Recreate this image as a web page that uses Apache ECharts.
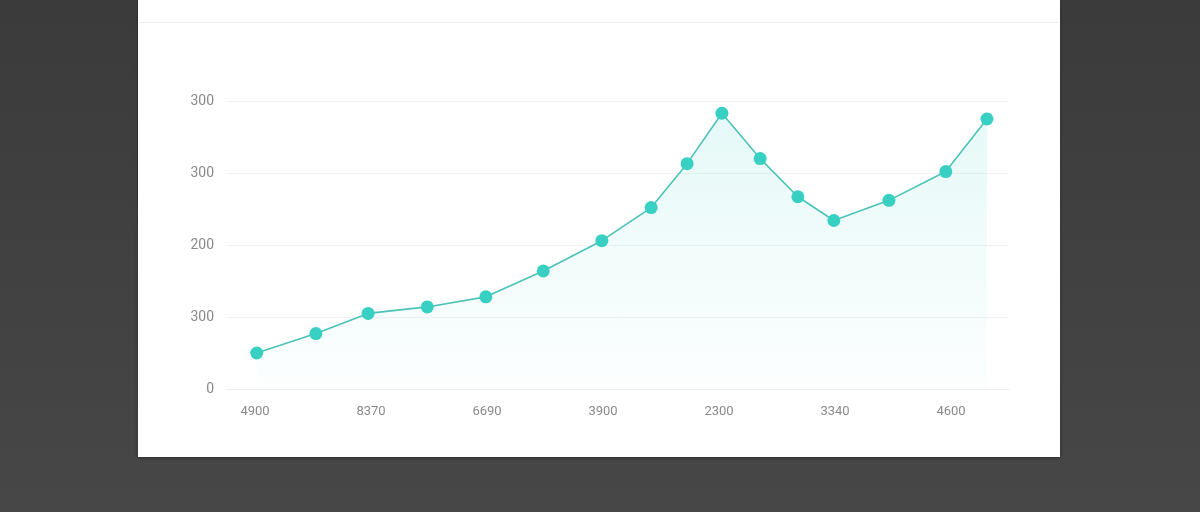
<!DOCTYPE html>
<html lang="en">
<head>
    <meta charset="UTF-8">
    <script type="text/javascript" src="https://cdn.jsdelivr.net/npm/echarts@6/dist/echarts.min.js"></script>
    <title>chart</title>
    <style>
        html, body { margin: 0; padding: 0; }
        body {
            width: 1200px; height: 512px; overflow: hidden; position: relative;
            background: linear-gradient(180deg, #3b3b3b 0%, #424242 60%, #474747 100%);
        }
        #card {
            position: absolute; left: 138px; top: 0; width: 922px; height: 457px;
            background: #fff; box-shadow: 0 1px 3px rgba(0,0,0,0.35);
        }
        #card_line {
            position: absolute; left: 140px; top: 22px; width: 918px; height: 1px;
            background: #ececec;
        }
        #main { position: absolute; left: 0; top: 0; width: 1200px; height: 512px; }
    </style>
</head>
<body>
<div id="card"></div>
<div id="card_line"></div>
<div id="main"></div>
<script type="text/javascript">
    // x positions (in label steps of 0.5) and values
    var xPos = [0.03, 1.05, 1.95, 2.97, 3.98, 4.97, 5.98, 6.83, 7.45, 8.05, 8.71, 9.36, 9.98, 10.93, 11.91, 12.62];
    var yVals = [50, 77, 105, 114, 128, 164, 206, 252, 313, 383, 320, 267, 234, 262, 302, 375];
    var xTicks = [0, 2, 4, 6, 8, 10, 12];
    var xLabels = ['4900', '8370', '6690', '3900', '2300', '3340', '4600'];
    var yLabels = ['0', '300', '200', '300', '300'];

    var points = xPos.map(function (x, i) { return [x, yVals[i]]; });

    var chart = echarts.init(document.getElementById('main'), null, {renderer: 'canvas'});
    chart.setOption({
        backgroundColor: 'transparent',
        animation: false,
        grid: {left: 226, right: 191, top: 101, bottom: 123},
        xAxis: {
            type: 'value',
            min: -0.5,
            max: 13,
            splitLine: {show: false},
            axisLine: {show: true, lineStyle: {color: '#eeeeee'}},
            axisTick: {show: false},
            axisLabel: {
                customValues: xTicks,
                margin: 16,
                color: '#8a8a8a',
                fontSize: 13,
                fontFamily: 'Roboto',
                formatter: function (v) {
                    var i = xTicks.indexOf(Math.round(v));
                    return i >= 0 ? xLabels[i] : '';
                }
            }
        },
        yAxis: {
            type: 'value',
            min: 0,
            max: 400,
            interval: 100,
            axisLine: {show: false},
            axisTick: {show: false},
            splitLine: {lineStyle: {color: '#f1f1f1'}},
            axisLabel: {
                margin: 12,
                color: '#8a8a8a',
                fontSize: 14,
                fontFamily: 'Roboto',
                formatter: function (v) { return yLabels[Math.round(v / 100)]; }
            }
        },
        series: [{
            type: 'line',
            data: points,
            symbol: 'circle',
            symbolSize: 13,
            itemStyle: {color: '#38d0c3'},
            lineStyle: {color: '#4cc2b8', width: 1.6},
            areaStyle: {
                color: new echarts.graphic.LinearGradient(0, 0, 0, 1, [
                    {offset: 0, color: 'rgba(70, 212, 202, 0.20)'},
                    {offset: 1, color: 'rgba(70, 212, 202, 0.02)'}
                ])
            }
        }]
    });
</script>
</body>
</html>
